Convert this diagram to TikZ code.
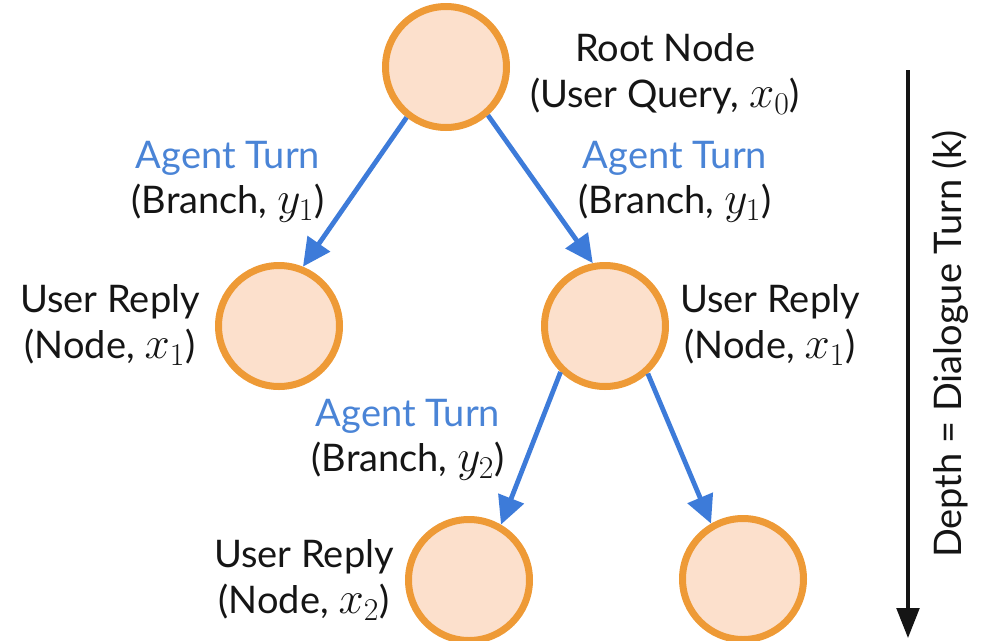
\RequirePackage{fix-cm}
\documentclass[tikz,border=0pt]{standalone}
\usepackage[no-math]{fontspec}
\setmainfont{Lato}
\usetikzlibrary{arrows.meta}

\definecolor{nodefill}{HTML}{FCE0CC}
\definecolor{nodeline}{HTML}{EE9A36}
\definecolor{edgeblue}{HTML}{3D7BD9}
\definecolor{turnblue}{HTML}{4A84D6}
\definecolor{ink}{HTML}{151515}

% indexed variable set a little larger than the running text
\newcommand\ivar[2]{{\fontsize{34}{34}\selectfont$#1_{#2}$}}

\tikzset{
  state/.style={circle, draw=nodeline, fill=nodefill, line width=5.25pt,
                minimum size=90.75pt, inner sep=0pt},
  lbl/.style={align=center, inner sep=0pt, text=ink,
              font=\fontsize{28.5}{34}\selectfont},
  branch/.style={draw=edgeblue, line width=3.6pt,
                 -{Triangle[length=21pt,width=20pt]}},
  deptharrow/.style={draw=ink, line width=2.6pt,
                 -{Triangle[length=22.5pt,width=17pt]}}
}

\begin{document}
\begin{tikzpicture}[x=0.75pt, y=-0.75pt]
  \useasboundingbox (0,0) rectangle (983,640);

  % tree states
  \node[state] (root) at (446,67) {};
  \node[state] (lm)   at (279,326) {};
  \node[state] (rm)   at (605,326) {};
  \node[state] (bl)   at (469,580) {};
  \node[state] (br)   at (743,579) {};

  % agent turns
  \draw[branch] (root.232) -- (lm.68);
  \draw[branch] (root.311) -- (rm.101);
  \draw[branch] (rm.226) -- (bl.60);
  \draw[branch] (rm.312) -- (br.120);

  % labels
  \node[lbl] (rootlbl) at (665,74) {Root Node\\(User Query, \ivar{x}{0})};
  \node[lbl] (brl) at (228,182) {{\color{turnblue}Agent Turn}\\(Branch, \ivar{y}{1})};
  \node[lbl] (brr) at (675,182) {{\color{turnblue}Agent Turn}\\(Branch, \ivar{y}{1})};
  \node[lbl] (repl) at (110,325) {User Reply\\(Node, \ivar{x}{1})};
  \node[lbl] (repr) at (770,325) {User Reply\\(Node, \ivar{x}{1})};
  \node[lbl] (br2) at (408,440) {{\color{turnblue}Agent Turn}\\(Branch, \ivar{y}{2})};
  \node[lbl] (repb) at (304,580) {User Reply\\(Node, \ivar{x}{2})};

  % depth axis
  \coordinate (dtop) at (908,70);
  \coordinate (dbot) at (908,638);
  \draw[deptharrow] (dtop) -- (dbot);
  \node[lbl, rotate=90] (depthlbl) at (950,344) {Depth = Dialogue Turn (k)};
\end{tikzpicture}
\end{document}
